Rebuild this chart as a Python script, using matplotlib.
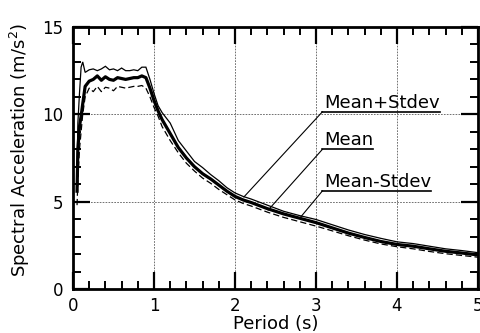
import matplotlib
matplotlib.use("Agg")
import matplotlib.pyplot as plt
from matplotlib.ticker import MultipleLocator

plt.rcParams['font.family'] = ['DejaVu Sans']

period = [0.05, 0.06, 0.08, 0.10, 0.12, 0.15, 0.2, 0.25, 0.3, 0.35,
          0.4, 0.45, 0.5, 0.55, 0.6, 0.65, 0.7, 0.75, 0.8, 0.85,
          0.9, 0.95, 1.0, 1.05, 1.1, 1.2, 1.3, 1.4, 1.5, 1.6,
          1.7, 1.8, 1.9, 2.0, 2.1, 2.2, 2.4, 2.6, 2.8, 3.0,
          3.2, 3.4, 3.6, 3.8, 4.0, 4.2, 4.4, 4.6, 4.8, 5.0]

mean = [5.6, 8.0, 9.3, 9.9, 10.6, 11.6, 11.9, 12.0, 12.2, 11.95,
        12.15, 12.0, 11.95, 12.1, 12.05, 12.0, 12.05, 12.1, 12.1, 12.2,
        12.1, 11.5, 10.8, 10.2, 9.7, 8.9, 8.1, 7.5, 7.0, 6.6,
        6.3, 5.95, 5.6, 5.3, 5.1, 4.95, 4.6, 4.3, 4.05, 3.8,
        3.5, 3.2, 2.95, 2.72, 2.55, 2.45, 2.3, 2.16, 2.06, 1.95]

mean_plus = [6.5, 9.5, 11.2, 12.7, 13.0, 12.4, 12.55, 12.6, 12.5, 12.6,
             12.75, 12.55, 12.6, 12.5, 12.65, 12.5, 12.5, 12.55, 12.5, 12.7,
             12.7, 12.0, 11.2, 10.5, 10.1, 9.5, 8.5, 7.9, 7.3, 6.95,
             6.55, 6.2, 5.8, 5.5, 5.3, 5.15, 4.8, 4.45, 4.2, 3.98,
             3.68, 3.38, 3.12, 2.9, 2.7, 2.6, 2.45, 2.3, 2.2, 2.08]

mean_minus = [4.8, 6.2, 8.0, 9.0, 10.0, 11.0, 11.5, 11.3, 11.6, 11.3,
              11.55, 11.5, 11.35, 11.6, 11.55, 11.5, 11.55, 11.6, 11.6, 11.65,
              11.5, 11.0, 10.4, 9.9, 9.3, 8.5, 7.8, 7.2, 6.75, 6.35,
              6.05, 5.7, 5.4, 5.1, 4.9, 4.75, 4.4, 4.1, 3.85, 3.6,
              3.33, 3.05, 2.8, 2.58, 2.42, 2.3, 2.15, 2.02, 1.92, 1.82]

labels = ['Mean+Stdev', 'Mean', 'Mean-Stdev']
label_pos = [(3.10, 10.15), (3.10, 8.0), (3.10, 5.62)]
point_pos = [(2.11, 5.27), (2.41, 4.52), (2.80, 4.06)]

fig = plt.figure(figsize=(4.8, 3.33), dpi=100)
ax = fig.add_axes([73/480, 1 - 289/333, 405/480, 262/333])

ax.plot(period, mean_plus, color='black', lw=0.9, solid_joinstyle='miter')
ax.plot(period, mean_minus, color='black', lw=0.9, linestyle=(0, (5, 2.5)))
ax.plot(period, mean, color='black', lw=2.3)

ax.set_xlim(0, 5)
ax.set_ylim(0, 15)
ax.xaxis.set_major_locator(MultipleLocator(1))
ax.xaxis.set_minor_locator(MultipleLocator(0.2))
ax.yaxis.set_major_locator(MultipleLocator(5))
ax.yaxis.set_minor_locator(MultipleLocator(1))

ax.grid(True, which='major', color='0.35', lw=0.6, linestyle=(0, (2, 1.5)))
ax.set_axisbelow(True)

ax.tick_params(which='both', direction='in', top=True, right=True, labelsize=12, color='black')
ax.tick_params(which='major', length=12, width=1.6)
ax.tick_params(which='minor', length=5.5, width=1.4)
ax.tick_params(axis='y', which='major', pad=7)
ax.tick_params(axis='x', which='major', pad=6)
for s in ax.spines.values():
    s.set_linewidth(2.0)

ax.set_xlabel('Period (s)', fontsize=13)
ax.set_ylabel('Spectral Acceleration (m/s$^2$)', fontsize=13)
ax.xaxis.set_label_coords(0.5, -0.10)
ax.yaxis.set_label_coords(-0.10, 0.53)

texts = []
for lab, tp in zip(labels, label_pos):
    t = ax.text(tp[0], tp[1], lab, ha='left', va='bottom', fontsize=13)
    texts.append(t)

fig.canvas.draw()
inv = ax.transData.inverted()
for t, pp in zip(texts, point_pos):
    bb = t.get_window_extent()
    (x0, y0), (x1, y1) = inv.transform([(bb.x0, bb.y0), (bb.x1, bb.y1)])
    ax.plot([x0 - 0.02, x1], [y0, y0], color='black', lw=1.2, clip_on=False)
    ax.plot([x0 - 0.02, pp[0]], [y0, pp[1]], color='black', lw=0.8)

fig.savefig('out.png', dpi=100)
